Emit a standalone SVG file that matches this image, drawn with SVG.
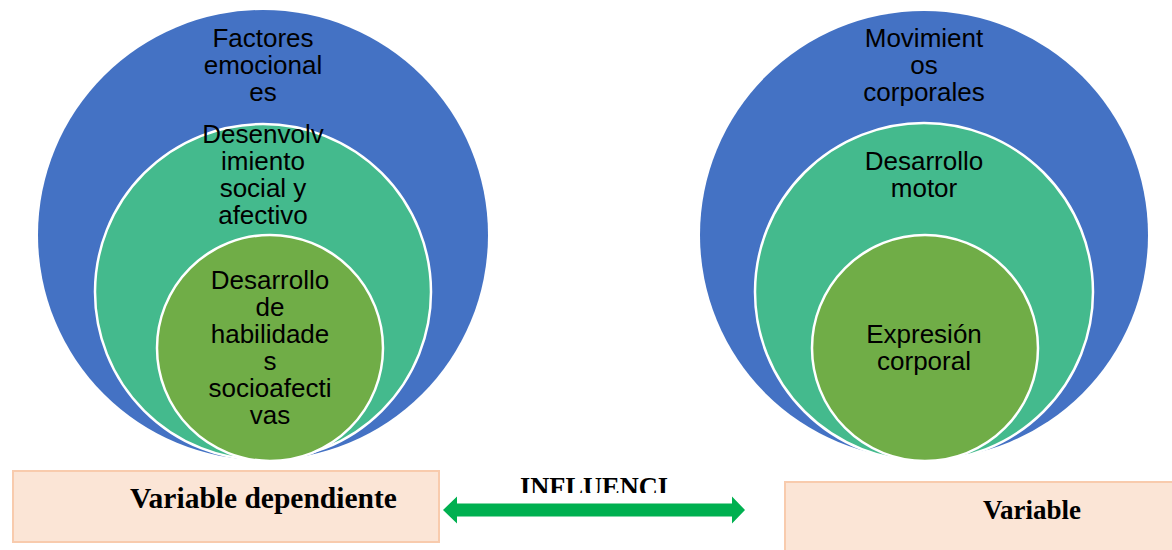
<svg xmlns="http://www.w3.org/2000/svg" width="1172" height="550" viewBox="0 0 1172 550">
<defs>
<style>
.outer{fill:#4472C4;}
.mid{fill:#44BA8D;stroke:#FFFFFF;stroke-width:2.5;}
.inner{fill:#70AD47;stroke:#FFFFFF;stroke-width:2.5;}
.ct{font-family:"Liberation Sans",Arial,sans-serif;font-size:26px;fill:#000000;text-anchor:middle;}
.box{fill:#FBE5D6;stroke:#F8CBAD;stroke-width:2;}
.bt{font-family:"Liberation Serif","Times New Roman",serif;font-weight:bold;fill:#000000;}
</style>
<clipPath id="clipInf"><rect x="500" y="460" width="200" height="33"/></clipPath>
</defs>
<rect width="1172" height="550" fill="#FFFFFF"/>

<g id="left-outer">
<circle class="outer" cx="263" cy="235" r="225"/>
<text class="ct" x="263" y="47">Factores</text>
<text class="ct" x="263" y="74">emocional</text>
<text class="ct" x="263" y="101">es</text>
</g>
<g id="left-mid">
<circle class="mid" cx="263" cy="292" r="168"/>
<text class="ct" x="263" y="143">Desenvolv</text>
<text class="ct" x="263" y="170">imiento</text>
<text class="ct" x="263" y="197">social y</text>
<text class="ct" x="263" y="224">afectivo</text>
</g>
<g id="left-inner">
<circle class="inner" cx="270" cy="348" r="113"/>
<text class="ct" x="270" y="289">Desarrollo</text>
<text class="ct" x="270" y="316">de</text>
<text class="ct" x="270" y="343">habilidade</text>
<text class="ct" x="270" y="370">s</text>
<text class="ct" x="270" y="397">socioafecti</text>
<text class="ct" x="270" y="424">vas</text>
</g>

<g id="right-outer">
<circle class="outer" cx="924" cy="235" r="224"/>
<text class="ct" x="924" y="47">Movimient</text>
<text class="ct" x="924" y="74">os</text>
<text class="ct" x="924" y="101">corporales</text>
</g>
<g id="right-mid">
<circle class="mid" cx="924" cy="292" r="169"/>
<text class="ct" x="924" y="170">Desarrollo</text>
<text class="ct" x="924" y="197">motor</text>
</g>
<g id="right-inner">
<circle class="inner" cx="925" cy="348" r="113"/>
<text class="ct" x="924" y="343">Expresión</text>
<text class="ct" x="924" y="370">corporal</text>
</g>

<g id="box-left">
<rect class="box" x="13" y="471" width="426" height="71"/>
<text class="bt" x="130" y="508" font-size="29.5">Variable dependiente</text>
</g>
<g id="box-right">
<rect class="box" x="785" y="482" width="400" height="80"/>
<text class="bt" x="983" y="519" font-size="27">Variable</text>
</g>

<g id="connectors">
<polygon fill="#00B050" points="443,510 457,496.5 457,503.5 732,503.5 732,496.5 745,510 732,523.5 732,516.5 457,516.5 457,523.5"/>
<text class="bt" x="520" y="495.5" font-size="26.4" clip-path="url(#clipInf)">INFLUENCI</text>
</g>
</svg>
